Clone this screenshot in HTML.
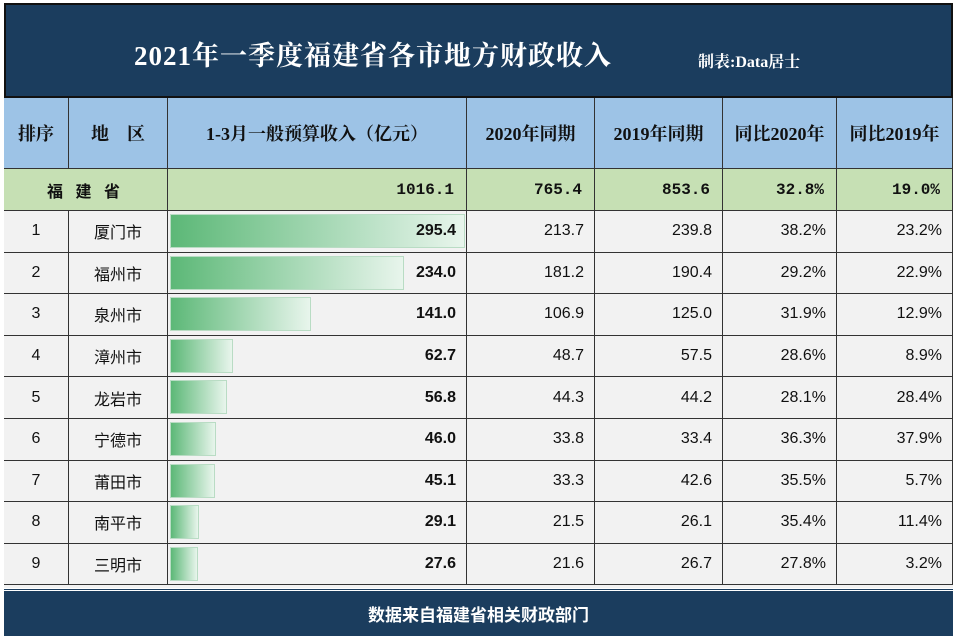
<!DOCTYPE html>
<html><head><meta charset="utf-8"><style>
body{margin:0;width:960px;height:636px;background:#fff;overflow:hidden;font-family:"Liberation Serif","Noto Serif CJK SC",serif;}
#wrap{position:absolute;left:4px;top:3px;width:949px;height:630px;background:#f2f2f2;}
.title{position:absolute;left:0;top:0;width:949px;height:95px;background:#1b3d5e;border:2px solid #111;box-sizing:border-box;}
.cell{position:absolute;box-sizing:border-box;border-right:1px solid #333;border-bottom:1px solid #333;display:flex;align-items:center;font-size:15px;color:#111;}
.hd{background:#9dc3e6;font-weight:bold;justify-content:center;font-size:18px;}
.pv{background:#c6e0b4;font-weight:bold;justify-content:flex-end;padding-right:12px;font-family:"Liberation Mono","Noto Sans CJK SC",monospace;font-size:16px;}
.dt{justify-content:flex-end;padding-right:10px;font-family:"Liberation Sans Narrow","Liberation Sans","Noto Sans CJK SC",sans-serif;font-size:16px;}
.ct{justify-content:center;font-family:"Liberation Sans","Noto Sans CJK SC",sans-serif;font-size:16px;}
.bar{position:absolute;height:34px;background:linear-gradient(to right,#5cb877,#e8f5ec);border:1px solid #b9dcc4;box-sizing:border-box;}
.foot{position:absolute;left:0;top:585px;width:949px;height:45px;background:#1b3d5e;border-top:3px double #fff;color:#fff;font-weight:bold;font-size:17px;display:flex;align-items:center;justify-content:center;font-family:"Liberation Sans","Noto Sans CJK SC",sans-serif;}
</style></head><body>
<div id="wrap">
<div class="title">
<div style="position:absolute;left:128px;top:29px;color:#fff;font-size:27px;font-weight:bold;letter-spacing:1px;">2021年一季度福建省各市地方财政收入</div>
<div style="position:absolute;left:692px;top:44px;color:#fff;font-size:16px;font-weight:bold;">制表:Data居士</div>
</div>
<div id="tbl"></div>
<div class="foot">数据来自福建省相关财政部门</div>
</div>
<script>
const cities=["厦门市","福州市","泉州市","漳州市","龙岩市","宁德市","莆田市","南平市","三明市"];
const revenue2021=[295.4,234.0,141.0,62.7,56.8,46.0,45.1,29.1,27.6];
const revenue2020=[213.7,181.2,106.9,48.7,44.3,33.8,33.3,21.5,21.6];
const revenue2019=[239.8,190.4,125.0,57.5,44.2,33.4,42.6,26.1,26.7];
const yoy2020=["38.2%","29.2%","31.9%","28.6%","28.1%","36.3%","35.5%","35.4%","27.8%"];
const yoy2019=["23.2%","22.9%","12.9%","8.9%","28.4%","37.9%","5.7%","11.4%","3.2%"];
const headers=["排序","地　区","1-3月一般预算收入（亿元）","2020年同期","2019年同期","同比2020年","同比2019年"];
const province=["福 建 省","1016.1","765.4","853.6","32.8%","19.0%"];
const colX=[0,65,164,463,591,719,833,949];
const tbl=document.getElementById('tbl');
function mk(cls,x,y,w,h,txt,name){const d=document.createElement('div');d.className='cell '+cls;d.style.cssText=`left:${x}px;top:${y}px;width:${w}px;height:${h}px;`;if(txt!==undefined)d.textContent=txt;


tbl.appendChild(d);return d;}
headers.forEach((h,i)=>{mk('hd',colX[i],95,colX[i+1]-colX[i],71,h,'header-cell');});
const p1=mk('pv',0,166,164,42,province[0],'province-label');p1.style.justifyContent='center';p1.style.paddingRight='0';p1.style.fontFamily='"Liberation Sans","Noto Sans CJK SC",sans-serif';p1.style.letterSpacing='4px';
for(let i=1;i<6;i++)mk('pv',colX[i+1],166,colX[i+2]-colX[i+1],42,province[i],'province-value');
const rowH=41.6, y0=208, scale=1.0;
cities.forEach((c,r)=>{const y=y0+r*rowH;
mk('ct',0,y,65,rowH,String(r+1),'rank-cell');
mk('ct',65,y,99,rowH,c,'city-cell');
const bc=mk('dt',164,y,299,rowH,'','revenue-cell');
const b=document.createElement('div');b.className='bar';b.style.left='2px';b.style.top='3px';b.style.width=(revenue2021[r]*scale)+'px';


bc.appendChild(b);
const s=document.createElement('span');s.textContent=revenue2021[r].toFixed(1);s.style.cssText='position:relative;font-weight:bold;';


bc.appendChild(s);
mk('dt',463,y,128,rowH,revenue2020[r].toFixed(1),'value-2020');
mk('dt',591,y,128,rowH,revenue2019[r].toFixed(1),'value-2019');
mk('dt',719,y,114,rowH,yoy2020[r],'yoy-2020');
mk('dt',833,y,116,rowH,yoy2019[r],'yoy-2019');
});
</script>
</body></html>
